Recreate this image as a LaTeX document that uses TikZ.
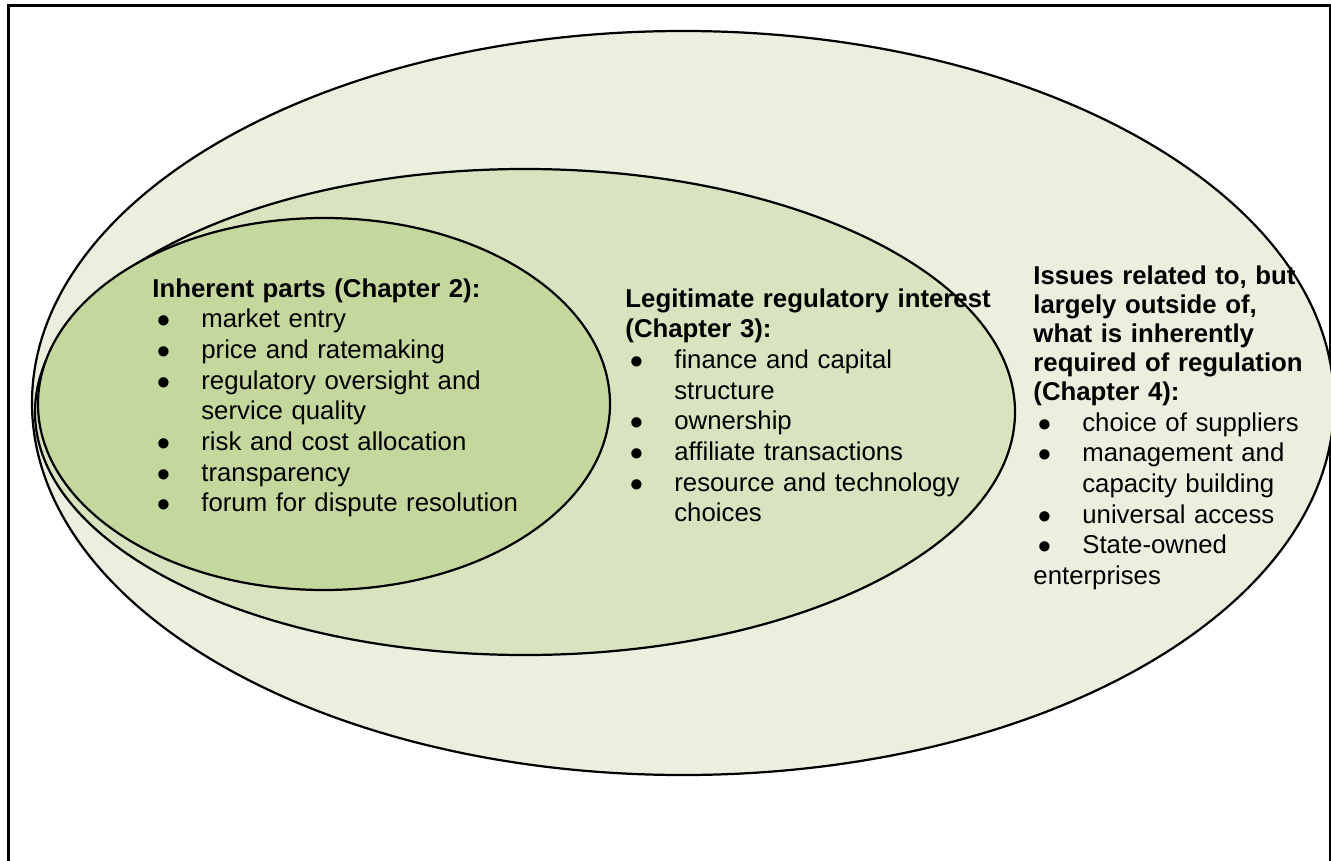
\documentclass[tikz,border=0pt]{standalone}
\usepackage{fontspec}
\setmainfont{Liberation Sans}
\definecolor{outerfill}{RGB}{235,239,222}
\definecolor{midfill}{RGB}{216,228,192}
\definecolor{innerfill}{RGB}{196,215,157}
\newcommand{\bl}[1]{\par\noindent\makebox[22pt][l]{\hspace{2pt}$\bullet$}#1}
\newcommand{\cn}[1]{\par\noindent\hspace{22pt}#1}

\begin{document}
\begin{tikzpicture}[x=0.45pt,y=-0.45pt,
    ring/.style={draw=black,line width=1pt},
    blocktext/.style={anchor=base west,inner sep=0pt,text width=260pt,
      align=left,font=\fontsize{11.6}{13.8}\selectfont}]
    \useasboundingbox (0,0) rectangle (1331,861);
    \fill[white] (0,0) rectangle (1331,861);

    \coordinate (outerC) at (683,403);
    \coordinate (midC)   at (525,412);
    \coordinate (innerC) at (324,404);

    % frame
    \draw[line width=1pt] (8.5,861) -- (8.5,5.5) -- (1330,5.5) -- (1330,861);

    % nested areas
    \draw[ring,fill=outerfill] (outerC) ellipse [x radius=292.95pt,y radius=167.4pt];
    \draw[ring,fill=midfill]   (midC)   ellipse [x radius=220.5pt,y radius=109.35pt];
    \draw[ring,fill=innerfill] (innerC) ellipse [x radius=128.7pt,y radius=83.7pt];

    \node[blocktext] (inherent) at (152,297) {%
        \textbf{Inherent parts (Chapter 2):}
        \bl{market entry}
        \bl{price and ratemaking}
        \bl{regulatory oversight and}
        \cn{service quality}
        \bl{risk and cost allocation}
        \bl{transparency}
        \bl{forum for dispute resolution}};

    \node[blocktext] (legit) at (625,307) {%
        {\bfseries Legitimate regulatory interest\\(Chapter 3):\par}
        \bl{finance and capital}
        \cn{structure}
        \bl{ownership}
        \bl{affiliate transactions}
        \bl{resource and technology}
        \cn{choices}};

    \node[blocktext] (outside) at (1033,284) {%
        {\fontsize{11.6}{13.1}\selectfont\bfseries Issues related to, but\\
         largely outside of,\\what is inherently\\required of regulation\\
         (Chapter 4):\par}
        \bl{choice of suppliers}
        \bl{management and}
        \cn{capacity building}
        \bl{universal access}
        \bl{State-owned}
        \par\noindent enterprises};
\end{tikzpicture}
\end{document}
